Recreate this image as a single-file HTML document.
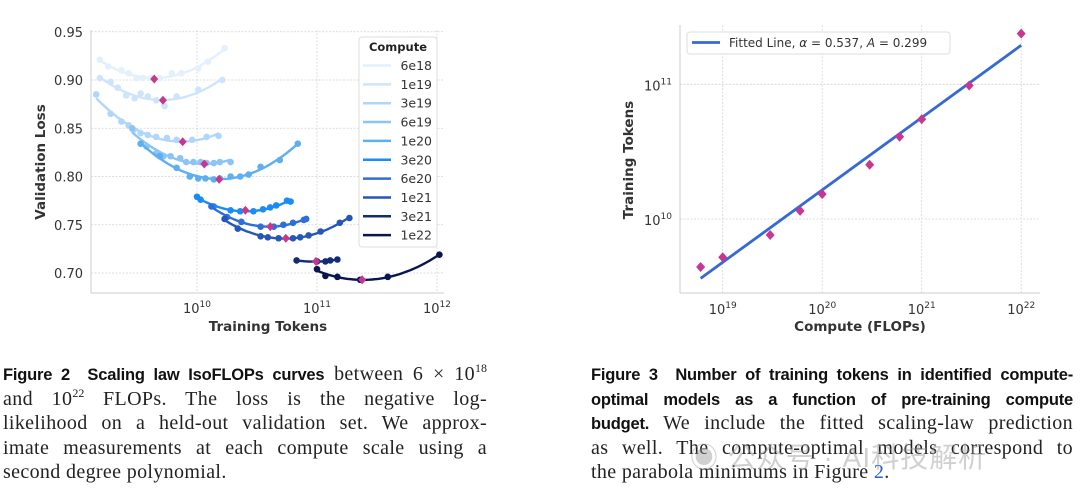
<!DOCTYPE html>
<html><head><meta charset="utf-8"><style>
body{margin:0;width:1080px;height:496px;background:#fff;overflow:hidden;position:relative;font-family:"Liberation Serif",serif}
svg{position:absolute;left:0;top:0}
.cap{position:absolute;font-size:20px;line-height:24.6px;color:#222;letter-spacing:0.35px}
.cap div{height:24.6px;text-align:justify;text-align-last:justify;white-space:nowrap}
.cap div.last{text-align-last:left}
.cap sup{font-size:12px;vertical-align:0;position:relative;top:-8px;line-height:0;letter-spacing:0}
.b{font-family:"Liberation Sans",sans-serif;font-weight:bold;font-size:16.5px;color:#111;letter-spacing:-0.2px}
.wm{position:absolute;left:690px;top:436px;font-family:"Liberation Sans","Noto Sans CJK SC",sans-serif;font-size:28px;color:rgba(150,150,150,0.45);letter-spacing:1px}
</style></head><body>
<svg id="chart" width="1080" height="496" font-family="DejaVu Sans, sans-serif"></svg>

<div class="cap" style="left:3px;top:362px;width:484px">
<div><span class="b">Figure 2&nbsp; Scaling law IsoFLOPs curves</span> between 6 × 10<sup>18</sup></div>
<div>and 10<sup>22</sup> FLOPs. The loss is the negative log-</div>
<div>likelihood on a held-out validation set. We approx-</div>
<div>imate measurements at each compute scale using a</div>
<div class="last">second degree polynomial.</div>
</div>
<div class="cap" style="left:591px;top:362px;width:482px">
<div><span class="b">Figure 3&nbsp; Number of training tokens in identified compute-</span></div>
<div><span class="b">optimal models as a function of pre-training compute</span></div>
<div><span class="b">budget.</span> We include the fitted scaling-law prediction</div>
<div>as well. The compute-optimal models correspond to</div>
<div class="last">the parabola minimums in Figure <span style="color:#2a5fd0">2</span>.</div>
</div>
<div class="wm">◉ 公众号 · AI科技解析</div>

<script>
const NS='http://www.w3.org/2000/svg';
const svg=document.getElementById('chart');
function el(tag,attrs,parent){const e=document.createElementNS(NS,tag);for(const k in attrs)e.setAttribute(k,attrs[k]);(parent||svg).appendChild(e);return e;}

// ---------- data ----------
const computeLabels=['6e18','1e19','3e19','6e19','1e20','3e20','6e20','1e21','3e21','1e22'];
const computeValues=[6e18,1e19,3e19,6e19,1e20,3e20,6e20,1e21,3e21,1e22];
const seriesColors=['#e4f0fc','#cde5fb','#b0d7f9','#8cc4f4','#5eaff2','#1a8cf5','#2d6ed8','#2656b8','#132c78','#0a1550'];
const tokensLog=[
[9.19,9.26,9.37,9.43,9.50,9.55,9.62,9.69,9.79,9.87,10.01,10.09,10.23],
[9.19,9.28,9.34,9.41,9.48,9.53,9.59,9.66,9.73,9.83,10.01,10.21],
[9.16,9.28,9.37,9.43,9.47,9.53,9.59,9.66,9.75,9.83,9.96,10.08,10.18],
[9.46,9.58,9.66,9.72,9.78,9.86,9.91,9.97,10.03,10.08,10.14,10.19,10.28],
[9.53,9.69,9.83,9.94,10.01,10.07,10.14,10.19,10.28,10.36,10.43,10.53,10.69,10.84],
[10.00,10.03,10.14,10.28,10.36,10.47,10.55,10.61,10.66,10.75,10.78],
[10.12,10.25,10.37,10.53,10.64,10.72,10.80,10.89,10.91],
[10.23,10.34,10.53,10.59,10.68,10.80,10.86,10.93,11.03,11.19,11.27],
[10.83,11.00,11.07,11.11,11.17],
[11.00,11.07,11.17,11.36,11.59,12.02]];
const losses=[
[0.921,0.914,0.910,0.907,0.902,0.902,0.902,0.902,0.907,0.907,0.912,0.919,0.933],
[0.902,0.898,0.892,0.884,0.881,0.886,0.883,0.879,0.873,0.883,0.890,0.900],
[0.885,0.865,0.857,0.853,0.848,0.845,0.843,0.841,0.840,0.838,0.838,0.841,0.842],
[0.850,0.831,0.824,0.821,0.821,0.819,0.815,0.815,0.815,0.814,0.814,0.815,0.815],
[0.834,0.821,0.809,0.800,0.798,0.798,0.797,0.798,0.800,0.800,0.802,0.810,0.817,0.834],
[0.779,0.776,0.769,0.765,0.764,0.764,0.766,0.768,0.770,0.775,0.774],
[0.769,0.758,0.753,0.748,0.748,0.750,0.752,0.755,0.756],
[0.756,0.746,0.738,0.737,0.736,0.736,0.737,0.739,0.743,0.752,0.757],
[0.713,0.712,0.712,0.713,0.714],
[0.704,0.697,0.696,0.693,0.696,0.719]];
const optTokens=[4.4e9,5.2e9,7.6e9,1.15e10,1.53e10,2.53e10,4.08e10,5.5e10,9.8e10,2.38e11];
const optLoss=[0.901,0.879,0.836,0.813,0.797,0.765,0.748,0.736,0.712,0.693];
const fitAlpha=0.537, fitA=0.299;
const lossTicks=[0.70,0.75,0.80,0.85,0.90,0.95];
const leftXTicks=[10,11,12];
const rightXTicks=[19,20,21,22];
const rightYTicks=[10,11];

// ---------- left chart ----------
const L={x0:91,x1:444,y0:30,y1:293};
const lx=v=>197+(v-10)*120;
const ly=v=>273-(v-0.70)/0.05*48.25;
const gL=el('g',{});


lossTicks.forEach(t=>{
  el('line',{x1:L.x0,x2:L.x1,y1:ly(t),y2:ly(t),stroke:'#d4d4d4','stroke-dasharray':'2,1.5','stroke-width':0.8},gL);
  const tx=el('text',{x:L.x0-8,y:ly(t)+5,'text-anchor':'end','font-size':13,fill:'#333'},gL);
  tx.textContent=t.toFixed(2);
  
  
});
leftXTicks.forEach(t=>{
  el('line',{x1:lx(t),x2:lx(t),y1:L.y0,y2:L.y1,stroke:'#d4d4d4','stroke-dasharray':'2,1.5','stroke-width':0.8},gL);
  const tx=el('text',{x:lx(t),y:L.y1+20,'text-anchor':'middle','font-size':13,fill:'#333'},gL);
  tx.innerHTML='10<tspan dy="-6" font-size="9">'+t+'</tspan>';
  
  
});
el('line',{x1:L.x0,x2:L.x0,y1:L.y0,y2:L.y1,stroke:'#ccc','stroke-width':1},gL);
el('line',{x1:L.x0,x2:L.x1,y1:L.y1,y2:L.y1,stroke:'#ccc','stroke-width':1},gL);

function quadFit(xs,ys){
  let s=[0,0,0,0,0],t=[0,0,0];
  xs.forEach((x,i)=>{let p=1;for(let k=0;k<5;k++){s[k]+=p;p*=x;}t[0]+=ys[i];t[1]+=ys[i]*x;t[2]+=ys[i]*x*x;});
  const M=[[s[0],s[1],s[2],t[0]],[s[1],s[2],s[3],t[1]],[s[2],s[3],s[4],t[2]]];
  for(let i=0;i<3;i++){for(let j=i+1;j<3;j++){const f=M[j][i]/M[i][i];for(let k=i;k<4;k++)M[j][k]-=f*M[i][k];}}
  const c=[0,0,0];for(let i=2;i>=0;i--){let v=M[i][3];for(let k=i+1;k<3;k++)v-=M[i][k]*c[k];c[i]=v/M[i][i];}
  return x=>c[0]+c[1]*x+c[2]*x*x;
}
computeLabels.forEach((lab,i)=>{
  const g=el('g',{},gL);
  
  
  const xs=tokensLog[i],ys=losses[i],f=quadFit(xs,ys);
  const a=Math.min(...xs),b=Math.max(...xs);let d='';
  for(let k=0;k<=40;k++){const x=a+(b-a)*k/40;d+=(k?'L':'M')+lx(x).toFixed(1)+','+ly(f(x)).toFixed(1);}
  const p=el('path',{d:d,fill:'none',stroke:seriesColors[i],'stroke-width':2.4},g);
  
  
  xs.forEach((x,k)=>{
    const c=el('circle',{cx:lx(x),cy:ly(ys[k]),r:3.3,fill:seriesColors[i]},g);
    
    
  });
});
optTokens.forEach((t,i)=>{
  const x=lx(Math.log10(t)),y=ly(optLoss[i]);
  const m=el('path',{d:`M${x},${y-4.5}L${x+4},${y}L${x},${y+4.5}L${x-4},${y}Z`,fill:'#c8378f'},gL);
  
  
});
let t1=el('text',{x:268,y:331,'text-anchor':'middle','font-size':13.5,'font-weight':'bold',fill:'#333'},gL);
t1.textContent='Training Tokens';


let t2=el('text',{x:0,y:0,'text-anchor':'middle','font-size':13.5,'font-weight':'bold',fill:'#333',transform:'translate(45,162) rotate(-90)'},gL);
t2.textContent='Validation Loss';


const lg=el('g',{},gL);


el('rect',{x:359,y:37,width:78,height:210,rx:3,fill:'#fff',stroke:'#ddd'},lg);
let lt=el('text',{x:398,y:51,'text-anchor':'middle','font-size':11.5,'font-weight':'bold',fill:'#222'},lg);
lt.textContent='Compute';
computeLabels.forEach((lab,i)=>{
  const y=65.5+i*18.85;
  const e=el('g',{},lg);
  
  
  el('line',{x1:363,x2:391,y1:y,y2:y,stroke:seriesColors[i],'stroke-width':2.5},e);
  const tx=el('text',{x:432,y:y+4.5,'text-anchor':'end','font-size':12.5,fill:'#333'},e);
  tx.textContent=lab;
});

// ---------- right chart ----------
const R={x0:680,x1:1040,y0:25,y1:293};
const rx=v=>722.7+(v-19)*99.5;
const ry=v=>219-(v-10)*134.7;
const gR=el('g',{});


rightXTicks.forEach(t=>{
  el('line',{x1:rx(t),x2:rx(t),y1:R.y0,y2:R.y1,stroke:'#d4d4d4','stroke-dasharray':'2,1.5','stroke-width':0.8},gR);
  const tx=el('text',{x:rx(t),y:R.y1+21,'text-anchor':'middle','font-size':13,fill:'#333'},gR);
  tx.innerHTML='10<tspan dy="-6" font-size="9">'+t+'</tspan>';
  
  
});
rightYTicks.forEach(t=>{
  el('line',{x1:R.x0,x2:R.x1,y1:ry(t),y2:ry(t),stroke:'#d4d4d4','stroke-dasharray':'2,1.5','stroke-width':0.8},gR);
  const tx=el('text',{x:R.x0-8,y:ry(t)+6,'text-anchor':'end','font-size':13,fill:'#333'},gR);
  tx.innerHTML='10<tspan dy="-6" font-size="9">'+t+'</tspan>';
  
  
});
el('line',{x1:R.x0,x2:R.x0,y1:R.y0,y2:R.y1,stroke:'#ccc','stroke-width':1},gR);
el('line',{x1:R.x0,x2:R.x1,y1:R.y1,y2:R.y1,stroke:'#ccc','stroke-width':1},gR);
const cA=Math.log10(computeValues[0]),cB=Math.log10(computeValues[computeValues.length-1]);
const fl=c=>Math.log10(fitA)+fitAlpha*c;
const fit=el('line',{x1:rx(cA),y1:ry(fl(cA)),x2:rx(cB),y2:ry(fl(cB)),stroke:'#3569d6','stroke-width':2.8},gR);


optTokens.forEach((t,i)=>{
  const x=rx(Math.log10(computeValues[i])),y=ry(Math.log10(t));
  const m=el('path',{d:`M${x},${y-5}L${x+4.5},${y}L${x},${y+5}L${x-4.5},${y}Z`,fill:'#c8378f'},gR);
  
  
});
const rl=el('g',{},gR);


el('rect',{x:687,y:32,width:263,height:22,rx:3,fill:'#fff',stroke:'#ddd'},rl);
el('line',{x1:692,x2:720,y1:42.5,y2:42.5,stroke:'#3569d6','stroke-width':2.8},rl);
const rlt=el('text',{x:729,y:47,'font-size':12,fill:'#333'},rl);
rlt.innerHTML='Fitted Line, <tspan font-style="italic">α</tspan> = 0.537, <tspan font-style="italic">A</tspan> = 0.299';
let t3=el('text',{x:860,y:331,'text-anchor':'middle','font-size':13.5,'font-weight':'bold',fill:'#333'},gR);
t3.textContent='Compute (FLOPs)';


let t4=el('text',{x:0,y:0,'text-anchor':'middle','font-size':13.5,'font-weight':'bold',fill:'#333',transform:'translate(633,160) rotate(-90)'},gR);
t4.textContent='Training Tokens';


</script>
</body></html>
